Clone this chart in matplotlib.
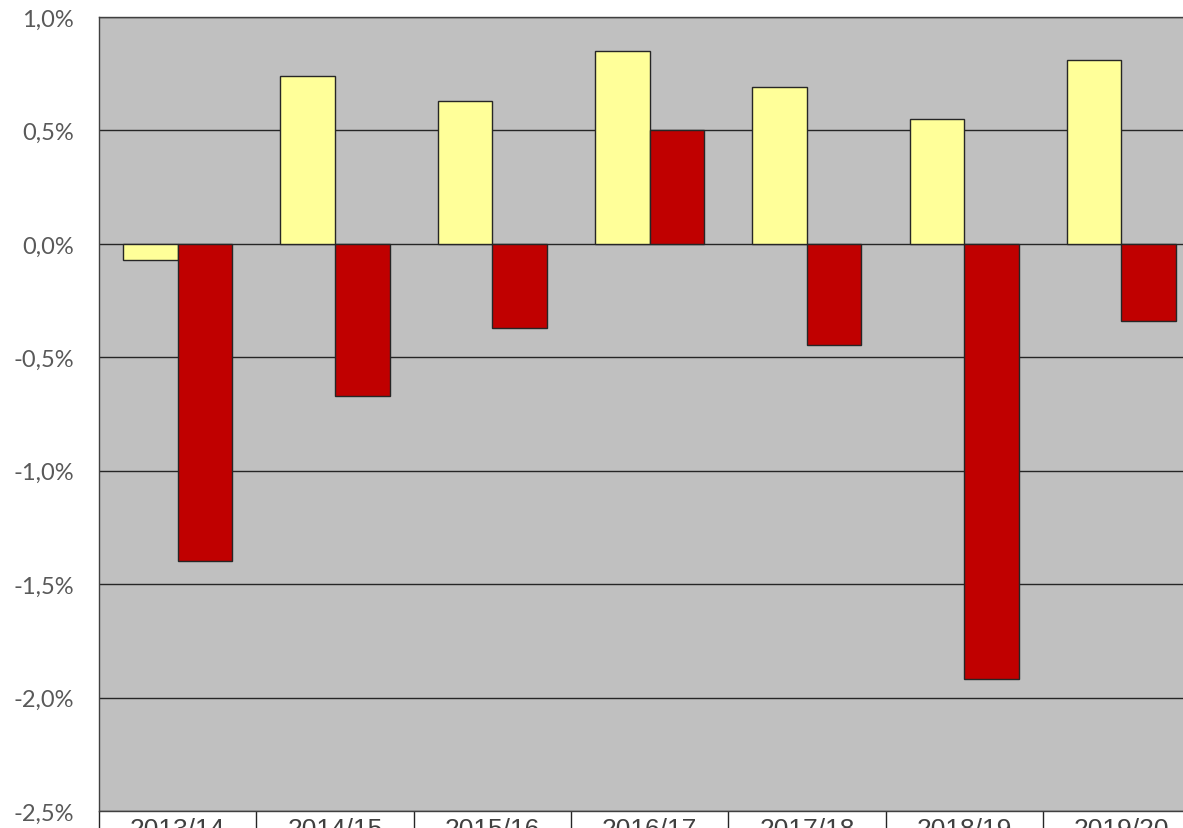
import numpy as np
import matplotlib
matplotlib.use("Agg")
import matplotlib.pyplot as plt
from matplotlib.ticker import FuncFormatter, FixedLocator

# datos (en %)
temporadas = ["2013/14", "2014/15", "2015/16", "2016/17", "2017/18", "2018/19", "2019/20"]
serie_amarilla = [-0.07, 0.74, 0.63, 0.85, 0.69, 0.55, 0.81]
serie_roja = [-1.40, -0.67, -0.37, 0.50, -0.445, -1.92, -0.34]

W, H = 1183, 829
fig = plt.figure(figsize=(W/100, H/100), dpi=100)
# el area del grafico se sale por la derecha y por abajo (recorte)
ax = fig.add_axes([99/W, (H-812)/H, 7*157.3/W, (812-18)/H])
ax.set_facecolor("#C0C0C0")

x = np.arange(len(temporadas))
ancho = 0.347
ax.bar(x - ancho/2, serie_amarilla, ancho, color="#FFFF99", edgecolor="#262626", linewidth=1, zorder=3)
ax.bar(x + ancho/2, serie_roja, ancho, color="#C00000", edgecolor="#262626", linewidth=1, zorder=3)

ax.set_xlim(-0.5, len(temporadas) - 0.5)
ax.set_ylim(-2.5, 1.0)
ax.set_yticks(np.arange(-2.5, 1.01, 0.5))
ax.yaxis.set_major_formatter(FuncFormatter(lambda v, p: ("%.1f%%" % v).replace(".", ",")))
ax.grid(axis="y", color="#262626", linewidth=1, zorder=1)
ax.set_axisbelow(True)

ax.set_xticks(x)
ax.set_xticklabels(temporadas, fontsize=19, family="Liberation Sans", color="#404040")
ax.xaxis.set_minor_locator(FixedLocator(np.arange(-0.5, len(temporadas), 1.0)))
ax.tick_params(axis="x", which="major", length=0, pad=4)
ax.tick_params(axis="x", which="minor", length=25, width=1, color="#262626")
ax.tick_params(axis="y", length=0, pad=18, labelsize=17, labelcolor="#595959")
for lab in ax.get_yticklabels():
    lab.set_family("Lato")

for s in ax.spines.values():
    s.set_color("#404040")
    s.set_linewidth(1)

fig.savefig("out.png", dpi=100)
